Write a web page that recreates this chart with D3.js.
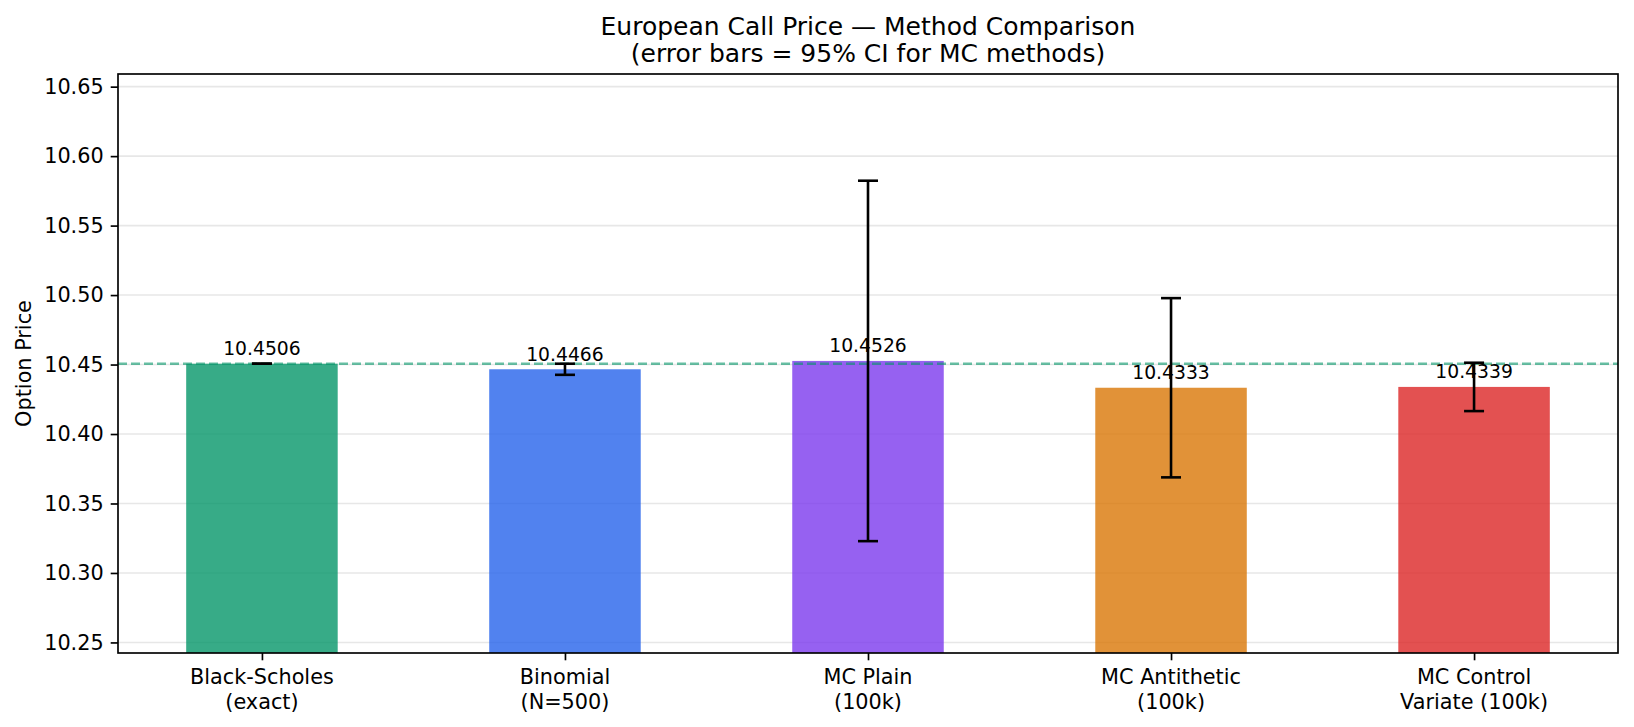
<!DOCTYPE html>
<html>
<head>
<meta charset="utf-8">
<script src="https://cdn.jsdelivr.net/npm/d3@7"></script>
<style>
  body { margin: 0; background: #fff; }
  svg { font-family: "DejaVu Sans", sans-serif; }
</style>
</head>
<body>
<div id="chart"></div>
<script>
// chart data
var methods = ["Black-Scholes\n(exact)", "Binomial\n(N=500)", "MC Plain\n(100k)", "MC Antithetic\n(100k)", "MC Control\nVariate (100k)"];
var prices = [10.4506, 10.4466, 10.4526, 10.4333, 10.4339];
var ciHalf = [0, 0.004, 0.1297, 0.0645, 0.0174];
var barColors = ["#059669", "#2563eb", "#7c3aed", "#d97706", "#dc2626"];
var yTicks = [10.25, 10.30, 10.35, 10.40, 10.45, 10.50, 10.55, 10.60, 10.65];
var exactPrice = 10.4506;

var W = 1634, H = 727;
// plot area (note: "top" is reserved on window, so use plot* names)
var plotL = 118, plotR = 1618, plotT = 74, plotB = 653;

var svg = d3.select("#chart").append("svg")
    .attr("width", W).attr("height", H);

var x = d3.scaleLinear().domain([-0.475, 4.475]).range([plotL, plotR]);
var y = d3.scaleLinear().domain([10.2424, 10.6591]).range([plotB, plotT]);
var barW = x(0.5) - x(0);

// grid
svg.append("g").selectAll("line").data(yTicks).enter().append("line")
    .attr("x1", plotL).attr("x2", plotR)
    .attr("y1", function(d){ return y(d); }).attr("y2", function(d){ return y(d); })
    .style("stroke", "#b0b0b0").style("stroke-opacity", 0.3).style("stroke-width", 1.6);

// bars
svg.append("g").selectAll("rect").data(prices).enter().append("rect")
    .attr("x", function(d, i){ return x(i) - barW / 2; })
    .attr("width", barW)
    .attr("y", function(d){ return y(d); })
    .attr("height", function(d){ return plotB - y(d); })
    .style("fill", function(d, i){ return barColors[i]; })
    .style("fill-opacity", 0.8);

// reference line (exact price)
svg.append("line")
    .attr("x1", plotL).attr("x2", plotR)
    .attr("y1", y(exactPrice)).attr("y2", y(exactPrice))
    .style("stroke", "#059669").style("stroke-opacity", 0.6)
    .style("stroke-width", 2.4).style("stroke-dasharray", "9,4");

// error bars
var eb = svg.append("g").selectAll("g").data(prices).enter().append("g");
eb.append("line")
    .attr("x1", function(d, i){ return x(i); }).attr("x2", function(d, i){ return x(i); })
    .attr("y1", function(d, i){ return y(d - ciHalf[i]); })
    .attr("y2", function(d, i){ return y(d + ciHalf[i]); })
    .style("stroke", "#000").style("stroke-width", 2.6);
[-1, 1].forEach(function(s){
    eb.append("line")
        .attr("x1", function(d, i){ return x(i) - 10; }).attr("x2", function(d, i){ return x(i) + 10; })
        .attr("y1", function(d, i){ return y(d + s * ciHalf[i]); })
        .attr("y2", function(d, i){ return y(d + s * ciHalf[i]); })
        .style("stroke", "#000").style("stroke-width", 2.6);
});

// value labels
svg.append("g").selectAll("text").data(prices).enter().append("text")
    .attr("x", function(d, i){ return x(i); })
    .attr("y", function(d){ return y(d) - 8.5; })
    .attr("text-anchor", "middle")
    .style("font-size", "18.75px")
    .text(function(d){ return d.toFixed(4); });

// axes
var yAxis = d3.axisLeft(y).tickValues(yTicks).tickSize(7.3).tickPadding(7)
    .tickFormat(d3.format(".2f"));
var gy = svg.append("g").attr("transform", "translate(" + plotL + ",0)").call(yAxis);
gy.select(".domain").remove();
gy.selectAll(".tick line").style("stroke", "#000").style("stroke-width", 1.67);
gy.selectAll(".tick text").style("font-size", "20.8px").style("font-family", "DejaVu Sans").attr("fill", "#000");

var xAxis = d3.axisBottom(x).tickValues(d3.range(methods.length)).tickSize(7.3).tickFormat("");
var gx = svg.append("g").attr("transform", "translate(0," + plotB + ")").call(xAxis);
gx.select(".domain").remove();
gx.selectAll(".tick line").style("stroke", "#000").style("stroke-width", 1.67);

var xl = svg.append("g").selectAll("text").data(methods).enter().append("text")
    .attr("x", function(d, i){ return x(i); })
    .attr("y", 684)
    .attr("text-anchor", "middle")
    .style("font-size", "20.8px");
xl.each(function(d){
    var t = d3.select(this);
    d.split("\n").forEach(function(line, k){
        t.append("tspan").attr("x", t.attr("x")).attr("dy", k === 0 ? 0 : 24.5).text(line);
    });
});

// frame
svg.append("rect")
    .attr("x", plotL).attr("y", plotT).attr("width", plotR - plotL).attr("height", plotB - plotT)
    .style("fill", "none").style("stroke", "#000").style("stroke-width", 1.67);

// y label
svg.append("text")
    .attr("transform", "translate(31," + ((plotT + plotB) / 2) + ") rotate(-90)")
    .attr("text-anchor", "middle")
    .style("font-size", "20.8px")
    .text("Option Price");

// title
var title = svg.append("text").attr("x", (plotL + plotR) / 2).attr("y", 34.5)
    .attr("text-anchor", "middle").style("font-size", "25px");
title.append("tspan").attr("x", (plotL + plotR) / 2).text("European Call Price — Method Comparison");
title.append("tspan").attr("x", (plotL + plotR) / 2).attr("dy", 27.5).text("(error bars = 95% CI for MC methods)");
</script>
</body>
</html>
